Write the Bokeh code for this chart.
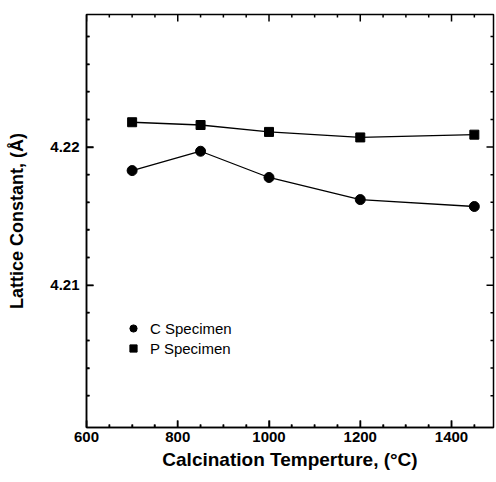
from bokeh.plotting import figure
from bokeh.models import Range1d, FixedTicker, Legend, LegendItem
from bokeh.embed import file_html
from bokeh.resources import INLINE

temps = [700, 850, 1000, 1200, 1450]
c_spec = [4.2183, 4.2197, 4.2178, 4.2162, 4.2157]
p_spec = [4.2218, 4.2216, 4.2211, 4.2207, 4.2209]

x_major = [600, 800, 1000, 1200, 1400]
x_minor = [v for v in range(650, 1500, 50) if v not in x_major]
y_major = [4.21, 4.22]
y_minor = [round(4.200 + 0.002 * i, 3) for i in range(1, 15)]
y_minor = [v for v in y_minor if v not in y_major]

FONT = "Liberation Sans"
X0, X1 = 600, 1492
Y0, Y1 = 4.1997, 4.2296
FRAME_W, FRAME_H = 407, 413          # frame size in px (496-86-3, 482-14-55)
PX_X = (X1 - X0) / FRAME_W           # data units per pixel
PX_Y = (Y1 - Y0) / FRAME_H

p = figure(width=496, height=482, output_backend="svg", toolbar_location=None,
           x_range=Range1d(X0, X1), y_range=Range1d(Y0, Y1),
           min_border_left=86, min_border_right=3, min_border_top=14, min_border_bottom=55,
           x_axis_label="Calcination Temperture, (°C)",
           y_axis_label="Lattice Constant, (Å)")

p.grid.visible = False
p.outline_line_color = "black"
p.outline_line_width = 1.5
p.background_fill_color = "white"
p.border_fill_color = "white"

p.xaxis.ticker = FixedTicker(ticks=x_major, minor_ticks=x_minor)
p.yaxis.ticker = FixedTicker(ticks=y_major, minor_ticks=y_minor)
for ax in list(p.xaxis) + list(p.yaxis):
    ax.axis_line_width = 1.5
    ax.axis_line_color = "black"
    ax.major_tick_in = 7
    ax.major_tick_out = 0
    ax.minor_tick_in = 3
    ax.minor_tick_out = 0
    ax.major_tick_line_color = "black"
    ax.minor_tick_line_color = "black"
    ax.major_tick_line_width = 1.5
    ax.minor_tick_line_width = 1.5
    ax.major_label_text_font = FONT
    ax.major_label_text_font_style = "bold"
    ax.major_label_text_font_size = "15px"
    ax.major_label_text_color = "black"
    ax.axis_label_text_font = FONT
    ax.axis_label_text_font_style = "bold"
    ax.axis_label_text_color = "black"
for ax in p.xaxis:
    ax.major_label_standoff = 4
    ax.axis_label_standoff = 4
    ax.axis_label_text_font_size = "19px"
for ax in p.yaxis:
    ax.major_label_standoff = 7
    ax.axis_label_standoff = 20
    ax.axis_label_text_font_size = "18px"

# inward tick marks on all four sides of the frame
for xs, ln in ((x_major, 7), (x_minor, 3)):
    n = len(xs)
    p.segment(x0=xs, y0=[Y0] * n, x1=xs, y1=[Y0 + ln * PX_Y] * n, line_color="black", line_width=1.5)
    p.segment(x0=xs, y0=[Y1] * n, x1=xs, y1=[Y1 - ln * PX_Y] * n, line_color="black", line_width=1.5)
for ys, ln in ((y_major, 7), (y_minor, 3)):
    n = len(ys)
    p.segment(x0=[X0] * n, y0=ys, x1=[X0 + ln * PX_X] * n, y1=ys, line_color="black", line_width=1.5)
    p.segment(x0=[X1] * n, y0=ys, x1=[X1 - ln * PX_X] * n, y1=ys, line_color="black", line_width=1.5)

p.line(temps, c_spec, line_color="black", line_width=1.3)
p.line(temps, p_spec, line_color="black", line_width=1.3)
rc = p.scatter(temps, c_spec, marker="circle", size=10, fill_color="black", line_color="black")
rp = p.scatter(temps, p_spec, marker="square", size=9, fill_color="black", line_color="black")

legend = Legend(items=[LegendItem(label="C Specimen", renderers=[rc]),
                       LegendItem(label="P Specimen", renderers=[rp])],
                location=(38, 69), background_fill_alpha=0, border_line_alpha=0,
                padding=0, margin=0, spacing=0, glyph_width=18, glyph_height=20,
                label_height=20, label_standoff=8,
                label_text_font=FONT, label_text_font_size="15px", label_text_color="black")
p.add_layout(legend, "center")

open("out.html", "w").write(file_html(p, INLINE))
